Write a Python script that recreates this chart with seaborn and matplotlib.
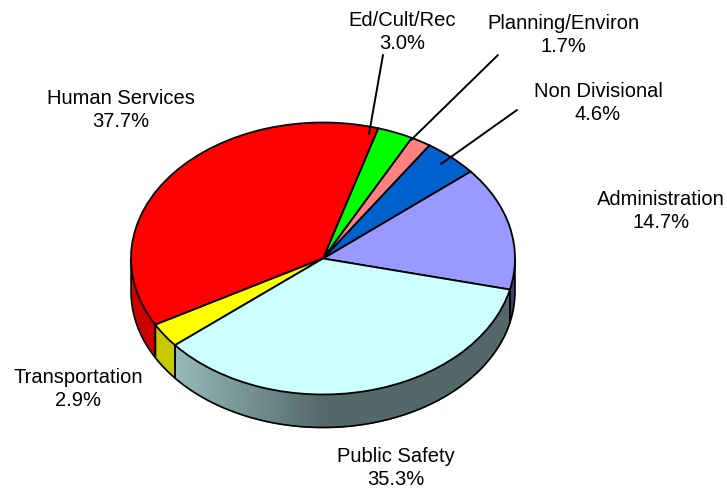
import numpy as np
import matplotlib
matplotlib.use('Agg')
import matplotlib.pyplot as plt
import seaborn as sns

# 값은 Administration 부터 반시계 방향 순서
names = ['Administration', 'Non Divisional', 'Planning/Environ', 'Ed/Cult/Rec',
         'Human Services', 'Transportation', 'Public Safety']
shares = [14.7, 4.6, 1.7, 3.0, 37.7, 2.9, 35.3]
top_colors = ['#9999FF', '#0060CC', '#FF8080', '#00FF00', '#FF0000', '#FFFF00', '#CCFFFF']
wall_colors = ['#3C3C70', '#002A5A', '#703838', '#007016', '#CC0000', '#C8C800', '#536868']

# 그림 위 픽셀 기준 위치
label_pos = [(661, 211), (598, 103), (563, 35), (402, 32), (121, 110), (78, 389), (396, 468)]
leaders = [None, ((517, 110), (441, 164)), ((498, 55), (411, 140)), ((383, 55), (369, 134)),
           None, None, None]

cx, cy, rx, ry = 323, 258.5, 192, 136
depth = 33 / ry
start = -13.2


def px(x, y):
    return (x - cx) / rx, (cy - y) / ry


sns.set_theme(style='white')
plt.rcParams['font.family'] = ['Liberation Sans', 'DejaVu Sans']

fig = plt.figure(figsize=(7.27, 4.90), dpi=100, facecolor='white')
ax = fig.add_axes([0, 0, 1, 1])

# 옆면 (아래쪽 반원만 보임)
edges = start + np.cumsum([0] + shares) * 360 / sum(shares)
for i in range(len(shares)):
    a0, a1 = edges[i], edges[i + 1]
    # 보이는 구간 180~360 으로 자르기
    if a0 < 0:
        a0, a1 = a0 + 360, 360
    a0, a1 = max(a0, 180), min(a1, 360)
    if a1 <= a0:
        continue
    t = np.radians(np.linspace(a0, a1, 260))
    x, y = np.cos(t), np.sin(t)
    if names[i] == 'Public Safety':
        # 왼쪽은 밝고 오른쪽으로 갈수록 어두워짐
        light, dark = np.array(sns.color_palette(['#96BABA', wall_colors[i]]))
        for j in range(len(t) - 1):
            w = min((x[j] - x[0]) / 0.78, 1)
            c = light + (dark - light) * w
            ax.fill([x[j], x[j + 1], x[j + 1], x[j]],
                    [y[j], y[j + 1], y[j + 1] - depth, y[j] - depth],
                    color=c, lw=1.0, zorder=1)
    else:
        ax.fill(np.r_[x, x[::-1]], np.r_[y, y[::-1] - depth],
                color=wall_colors[i], lw=0, zorder=1)
    ax.plot(np.r_[x[0], x[0], x, x[-1], x[-1]],
            np.r_[y[0], y[0] - depth, y - depth, y[-1] - depth, y[-1]],
            color='black', lw=1.2, zorder=2)

# 윗면
wedges, _ = ax.pie(shares, colors=sns.color_palette(top_colors), startangle=start,
                   wedgeprops=dict(edgecolor='black', linewidth=1.3))
for w in wedges:
    w.set_zorder(3)

ax.set_aspect('auto')
ax.set_xlim((0 - cx) / rx, (727 - cx) / rx)
ax.set_ylim((cy - 490) / ry, cy / ry)
ax.axis('off')

# 라벨과 지시선
for name, share, pos, lead in zip(names, shares, label_pos, leaders):
    lx, ly = px(*pos)
    ax.text(lx, ly, f'{name}\n{share:.1f}%', ha='center', va='center',
            fontsize=14.5, color='black', linespacing=1.25, zorder=5)
    if lead:
        p0, p1 = px(*lead[0]), px(*lead[1])
        ax.plot([p0[0], p1[0]], [p0[1], p1[1]], color='black', lw=1.4, zorder=4)

fig.savefig('out.png', dpi=100)
